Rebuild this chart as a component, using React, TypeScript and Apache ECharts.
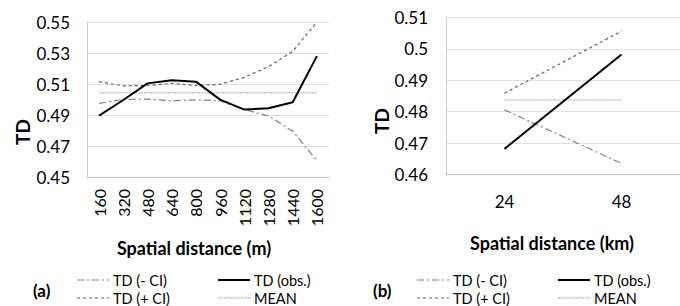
import React, { useEffect, useRef } from "react";
import * as echarts from "echarts";

const catsA = ["160", "320", "480", "640", "800", "960", "1120", "1280", "1440", "1600"];
const obsA = [0.4896, 0.4997, 0.5104, 0.5124, 0.5115, 0.4999, 0.4935, 0.4943, 0.4982, 0.528];
const plusA = [0.5115, 0.5088, 0.509, 0.5104, 0.509, 0.5098, 0.5143, 0.5212, 0.531, 0.55];
const minusA = [0.4975, 0.5001, 0.5002, 0.4992, 0.4997, 0.4992, 0.4935, 0.4894, 0.4795, 0.4605];
const meanA = [0.5044, 0.5044, 0.5044, 0.5044, 0.5044, 0.5044, 0.5044, 0.5044, 0.5044, 0.5044];

const catsB = ["24", "48"];
const obsB = [0.4682, 0.4982];
const plusB = [0.4859, 0.5056];
const minusB = [0.4806, 0.4636];
const meanB = [0.4837, 0.4837];

const FONT = 'Lato, "Open Sans", sans-serif';

export default function App() {
  const ref = useRef<HTMLDivElement>(null);
  useEffect(() => {
    if (!ref.current) return;
    const chart = echarts.init(ref.current, undefined, { renderer: "svg" });

    const styles: Record<string, any> = {
      minus: { color: "#808080", width: 1.2, type: [7, 3, 2, 3] },
      plus: { color: "#606060", width: 1.2, type: [3, 3] },
      obs: { color: "#000000", width: 2, type: "solid" },
      mean: { color: "#c4c4c4", width: 1.5, type: [2, 1] },
    };

    const mk = (name: string, data: number[], idx: number, key: string) => ({
      name,
      type: "line",
      xAxisIndex: idx,
      yAxisIndex: idx,
      data,
      symbol: "none",
      lineStyle: styles[key],
      z: key === "obs" ? 5 : 3,
    });

    const legend = (x0: number, label: string) => {
      const items = [
        { key: "minus", text: "TD (- CI)", lx: x0 + 77, ly: 280 },
        { key: "obs", text: "TD (obs.)", lx: x0 + 218, ly: 280 },
        { key: "plus", text: "TD (+ CI)", lx: x0 + 77, ly: 298 },
        { key: "mean", text: "MEAN", lx: x0 + 218, ly: 298 },
      ];
      const els: any[] = [];
      items.forEach((it) => {
        const s = styles[it.key];
        els.push({
          type: "line",
          shape: { x1: it.lx, y1: it.ly, x2: it.lx + 32, y2: it.ly },
          style: { stroke: s.color, lineWidth: s.width, lineDash: s.type === "solid" ? null : s.type },
        });
        els.push({
          type: "text",
          x: it.lx + 36,
          y: it.ly,
          style: { text: it.text, font: `14.5px ${FONT}`, fill: "#000", verticalAlign: "middle", align: "left" },
        });
      });
      els.push({
        type: "text",
        x: x0 + 33,
        y: 290,
        style: { text: label, font: `bold 17px ${FONT}`, fill: "#000", verticalAlign: "middle", align: "left" },
      });
      return els;
    };

    const axisLabelStyle = { fontFamily: FONT, fontSize: 16, color: "#000" };

    chart.setOption({
      animation: false,
      grid: [
        { left: 87, top: 22, width: 242, height: 155 },
        { left: 446, top: 17.3, width: 240, height: 157.4 },
      ],
      xAxis: [
        {
          type: "category",
          gridIndex: 0,
          data: catsA,
          boundaryGap: true,
          axisLine: { lineStyle: { color: "#bfbfbf" } },
          axisTick: { show: false },
          axisLabel: { ...axisLabelStyle, rotate: 90, margin: 12 },
        },
        {
          type: "category",
          gridIndex: 1,
          data: catsB,
          boundaryGap: true,
          axisLine: { lineStyle: { color: "#bfbfbf" } },
          axisTick: { show: false },
          axisLabel: { ...axisLabelStyle, fontSize: 17, margin: 18 },
        },
      ],
      yAxis: [
        {
          type: "value",
          gridIndex: 0,
          min: 0.45,
          max: 0.55,
          interval: 0.02,
          axisLine: { show: true, lineStyle: { color: "#d0d0d0" } },
          axisTick: { show: false },
          splitLine: { lineStyle: { color: "#e0e0e0" } },
          axisLabel: { ...axisLabelStyle, fontSize: 17, margin: 17, formatter: (v: number) => v.toFixed(2) },
        },
        {
          type: "value",
          gridIndex: 1,
          min: 0.46,
          max: 0.51,
          interval: 0.01,
          axisLine: { show: true, lineStyle: { color: "#d0d0d0" } },
          axisTick: { show: false },
          splitLine: { lineStyle: { color: "#e0e0e0" } },
          axisLabel: { ...axisLabelStyle, fontSize: 17, margin: 18, formatter: (v: number) => String(+v.toFixed(2)) },
        },
      ],
      series: [
        mk("TD (- CI)", minusA, 0, "minus"),
        mk("TD (+ CI)", plusA, 0, "plus"),
        mk("MEAN", meanA, 0, "mean"),
        mk("TD (obs.)", obsA, 0, "obs"),
        mk("TD (- CI)", minusB, 1, "minus"),
        mk("TD (+ CI)", plusB, 1, "plus"),
        mk("MEAN", meanB, 1, "mean"),
        mk("TD (obs.)", obsB, 1, "obs"),
      ],
      graphic: [
        {
          type: "text",
          x: 22,
          y: 132,
          rotation: Math.PI / 2,
          style: { text: "TD", font: `bold 19px ${FONT}`, fill: "#000", align: "center", verticalAlign: "middle" },
        },
        {
          type: "text",
          x: 381,
          y: 121,
          rotation: Math.PI / 2,
          style: { text: "TD", font: `bold 19px ${FONT}`, fill: "#000", align: "center", verticalAlign: "middle" },
        },
        {
          type: "text",
          x: 194,
          y: 248,
          style: { text: "Spatial distance (m)", font: `bold 18px ${FONT}`, fill: "#000", align: "center", verticalAlign: "middle" },
        },
        {
          type: "text",
          x: 552,
          y: 243,
          style: { text: "Spatial distance (km)", font: `bold 18px ${FONT}`, fill: "#000", align: "center", verticalAlign: "middle" },
        },
        ...legend(0, "(a)"),
        ...legend(340, "(b)"),
      ],
    });
    return () => chart.dispose();
  }, []);
  return (
    <div
      ref={ref}
      style={{ position: "fixed", left: 0, top: 0, width: 680, height: 306, background: "#fff" }}
    />
  );
}
